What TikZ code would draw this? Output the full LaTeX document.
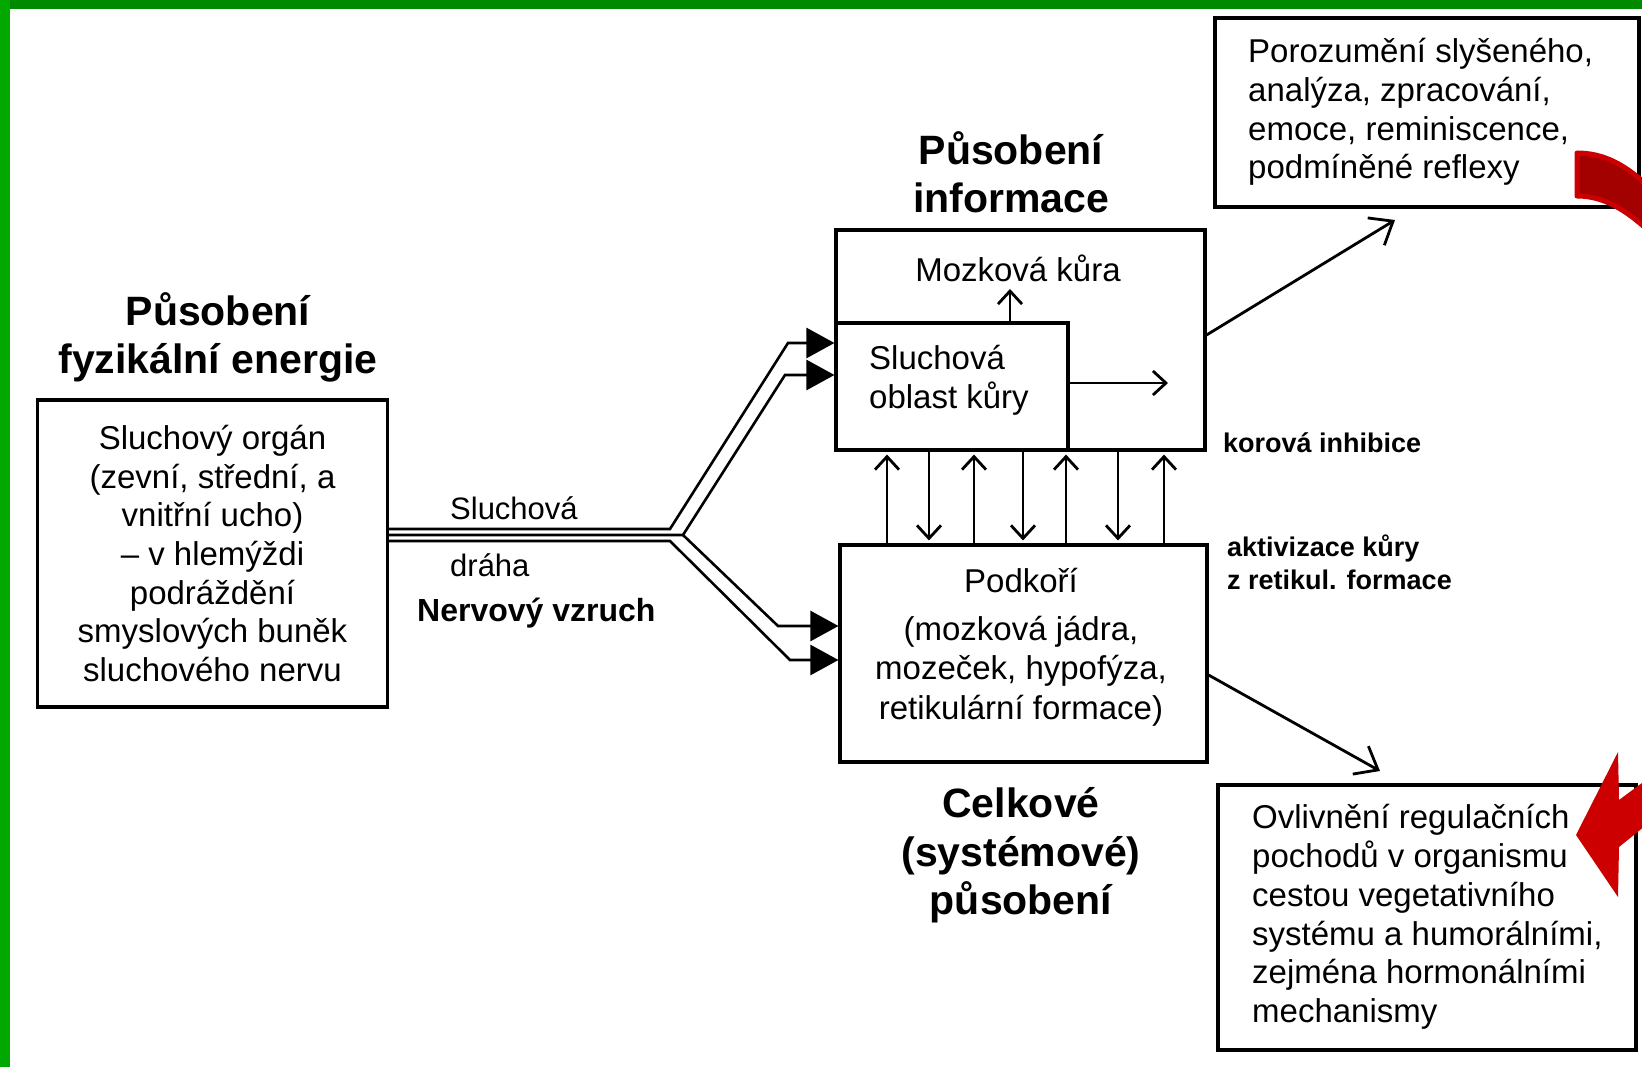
\documentclass[tikz,border=0pt]{standalone}
\usepackage{fontspec}
\setmainfont{Liberation Sans}
\usetikzlibrary{arrows.meta,calc}
\definecolor{topgreen}{HTML}{008A00}
\definecolor{leftgreen}{HTML}{00A800}
\definecolor{redA}{HTML}{CC0000}
\definecolor{redB}{HTML}{A30000}
\begin{document}
\begin{tikzpicture}[x=1pt,y=-1pt,
  box/.style={draw, line width=3.1pt, inner sep=0pt},
  body/.style={font=\fontsize{33}{38.7}\selectfont, inner sep=0pt},
  ttl/.style={font=\bfseries\fontsize{41}{48.5}\selectfont, align=center, inner sep=0pt},
  lbl/.style={font=\bfseries\fontsize{27}{33}\selectfont, align=left, inner sep=0pt},
  oa/.style={line width=2.8pt, -{Straight Barb[length=13pt,width=24pt]}},
  da/.style={line width=2.8pt, -{Straight Barb[length=20pt,width=32pt]}},
  fa/.style={line width=2.6pt, -{Triangle[length=28pt,width=30pt]}}]
\useasboundingbox (0,0) rectangle (1642,1067);
\fill[white] (0,0) rectangle (1642,1067);
\fill[topgreen] (0,0) rectangle (1642,9);
\fill[leftgreen] (0,0) rectangle (10,1067);

% boxes
\node[box, body, align=center, minimum width=350pt, minimum height=307pt] (organ) at (212.5,553.5)
  {Sluchový orgán\\(zevní, střední, a\\vnitřní ucho)\\– v hlemýždi\\podráždění\\smyslových buněk\\sluchového nervu};
\node[box, minimum width=369pt, minimum height=220pt] (kura) at (1020.5,340) {};
\node[box, minimum width=232pt, minimum height=127pt, anchor=south west] (oblast) at (kura.south west) {};
\node[box, minimum width=367pt, minimum height=217pt] (podk) at (1023.5,653.5) {};
\node[box, minimum width=424pt, minimum height=189pt] (poroz) at (1427,112.5) {};
\node[box, minimum width=418pt, minimum height=265pt] (ovl) at (1427,917.5) {};

% texts
\node[body, anchor=west, align=left] (poroztxt) at (1248,112)
  {Porozumění slyšeného,\\analýza, zpracování,\\emoce, reminiscence,\\podmíněné reflexy};
\node[body, anchor=west, align=left] (ovltxt) at (1252,917)
  {Ovlivnění regulačních\\pochodů v organismu\\cestou vegetativního\\systému a humorálními,\\zejména hormonálními\\mechanismy};
\node[body] (kuratxt) at (1018,268) {Mozková kůra};
\node[body, anchor=west, align=left] (oblasttxt) at (869,380) {Sluchová\\oblast kůry};
\node[body] (podktxt) at (1021,581) {Podkoří};
\node[body, align=center, font=\fontsize{33}{39.3}\selectfont] (podktxt2) at (1021,671)
  {(mozková jádra,\\mozeček, hypofýza,\\retikulární formace)};

% titles
\node[ttl] (t1) at (218,337.5) {Působení\\fyzikální energie};
\node[ttl] (t2) at (1011,172) {Působení\\informace};
\node[ttl] (t3) at (1021,855.5) {Celkové\\(systémové)\\působení};

% labels
\node[lbl, anchor=west] (inh) at (1223,443) {korová inhibice};
\node[lbl, anchor=west] (akt) at (1227,562.5) {aktivizace kůry\\z retikul. formace};
\node[font=\fontsize{31}{31}\selectfont, anchor=west, inner sep=0pt] (sl) at (450,508) {Sluchová};
\node[font=\fontsize{31}{31}\selectfont, anchor=west, inner sep=0pt] (dr) at (450,565) {dráha};
\node[font=\bfseries\fontsize{32}{32}\selectfont, anchor=west, inner sep=0pt] (nv) at (417,613) {Nervový vzruch};

% nerve pathway
\coordinate (jt) at (670,529);
\coordinate (jm) at (683,535);
\coordinate (jb) at (670,541);
\coordinate (u1) at (788,343);
\coordinate (u2) at (785,375);
\coordinate (l1) at (778,626);
\coordinate (l2) at (790,660);
\draw[fa] (organ.east |- jt) -- (jt) -- (u1) -- (kura.west |- u1);
\draw[fa] (organ.east |- jm) -- (jm) -- (u2) -- (kura.west |- u2);
\draw[fa] (jm) -- (l1) -- (podk.west |- l1);
\draw[fa] (organ.east |- jb) -- (jb) -- (l2) -- (podk.west |- l2);

% open arrows in cortex
\coordinate (k1) at (1010,289);
\draw[oa] (oblast.north -| k1) -- (k1);
\coordinate (r1) at (1168,383);
\draw[oa] (oblast.east |- r1) -- (r1);

% vertical arrows
\foreach \x [count=\i] in {887,974,1066,1164} {
  \coordinate (vu\i) at (\x,500);
  \draw[oa, shorten >=3pt] (podk.north -| vu\i) -- (kura.south -| vu\i);
}
\foreach \x [count=\i] in {929,1023,1118} {
  \coordinate (vd\i) at (\x,500);
  \draw[oa, shorten >=3pt] (kura.south -| vd\i) -- (podk.north -| vd\i);
}

% diagonal arrows
\coordinate (d1) at (1395,220);
\coordinate (d2) at (1380,771);
\draw[da] ($(kura.east)+(0,-5)$) -- (d1);
\draw[da] ($(podk.east)+(0,21.5)$) -- (d2);

% red arrows
\filldraw[fill=redB, draw=redA, line width=5pt, line join=round]
  (1577,153) .. controls (1604,153) and (1626,165) .. (1650,188)
  -- (1650,232) .. controls (1626,210) and (1604,196) .. (1577,196) -- cycle;
\fill[redA] (1576,835) -- (1618,752) -- (1619,800) -- (1650,777) -- (1650,822)
  -- (1619,847) -- (1618,897) -- cycle;
\end{tikzpicture}
\end{document}
